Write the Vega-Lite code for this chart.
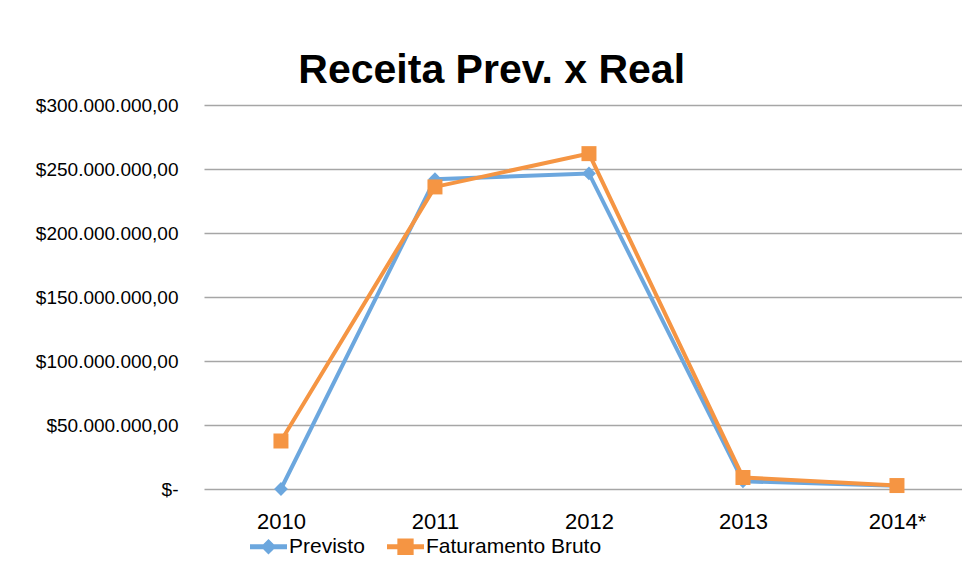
{
  "$schema": "https://vega.github.io/schema/vega-lite/v6.json",
  "width": 758,
  "height": 384,
  "autosize": {"type": "none"},
  "padding": {"left": 204, "top": 105, "right": 0, "bottom": 92},
  "background": "white",
  "config": {"view": {"stroke": null}},
  "title": {
    "text": "Receita Prev. x Real",
    "font": "Liberation Sans",
    "fontSize": 41,
    "fontWeight": "bold",
    "color": "black",
    "anchor": "middle",
    "frame": "bounds",
    "baseline": "alphabetic",
    "offset": -28,
    "dx": -7
  },
  "data": {
    "values": [
      {"year": "2010", "series": "Previsto", "value": 0},
      {"year": "2011", "series": "Previsto", "value": 242000000},
      {"year": "2012", "series": "Previsto", "value": 246500000},
      {"year": "2013", "series": "Previsto", "value": 6000000},
      {"year": "2014*", "series": "Previsto", "value": 2500000},
      {"year": "2010", "series": "Faturamento Bruto", "value": 37500000},
      {"year": "2011", "series": "Faturamento Bruto", "value": 236000000},
      {"year": "2012", "series": "Faturamento Bruto", "value": 262000000},
      {"year": "2013", "series": "Faturamento Bruto", "value": 9000000},
      {"year": "2014*", "series": "Faturamento Bruto", "value": 2700000}
    ]
  },
  "encoding": {
    "x": {
      "field": "year",
      "type": "ordinal",
      "sort": null,
      "scale": {"type": "point", "padding": 0.461, "align": 0.542},
      "axis": {
        "title": null,
        "labelAngle": 0,
        "domain": false,
        "ticks": false,
        "grid": false,
        "labelFont": "Liberation Sans",
        "labelFontSize": 22,
        "labelColor": "black",
        "labelPadding": 22,
        "labelBaseline": "top"
      }
    },
    "y": {
      "field": "value",
      "type": "quantitative",
      "scale": {"domain": [0, 300000000], "nice": false},
      "axis": {
        "title": null,
        "values": [0, 50000000, 100000000, 150000000, 200000000, 250000000, 300000000],
        "labelExpr": "datum.value === 0 ? '$-\u00a0\u00a0\u00a0' : '$' + format(datum.value/1000000, 'd') + '.000.000,00'",
        "domain": false,
        "ticks": false,
        "grid": true,
        "gridColor": "#a6a6a6",
        "gridWidth": 1.5,
        "labelFont": "Liberation Sans",
        "labelFontSize": 19,
        "labelColor": "black",
        "labelPadding": 26
      }
    },
    "color": {
      "field": "series",
      "type": "nominal",
      "scale": {"domain": ["Previsto", "Faturamento Bruto"], "range": ["#6ca7de", "#f59543"]},
      "legend": {
        "title": null,
        "orient": "none",
        "direction": "horizontal",
        "legendX": 46,
        "legendY": 423,
        "labelFont": "Liberation Sans",
        "labelFontSize": 21,
        "labelColor": "black",
        "labelLimit": 400,
        "labelOffset": 2,
        "columnPadding": 22,
        "symbolSize": 1369,
        "encode": {
          "symbols": {
            "update": {
              "shape": {"signal": "datum.value === 'Previsto' ? 'M-1,-0.13H1V0.13H-1Z M0,-0.42L0.42,0L0,0.42L-0.42,0Z' : 'M-1,-0.13H1V0.13H-1Z M-0.44,-0.44H0.44V0.44H-0.44Z'"},
              "fill": {"signal": "datum.value === 'Previsto' ? '#6ca7de' : '#f59543'"},
              "stroke": {"value": "transparent"},
              "strokeWidth": {"value": 0},
              "opacity": {"value": 1},
              "fillOpacity": {"value": 1},
              "size": {"value": 1369}
            }
          }
        }
      }
    }
  },
  "layer": [
    {"mark": {"type": "line", "strokeWidth": 4}},
    {
      "transform": [{"filter": "datum.series === 'Previsto'"}],
      "mark": {"type": "point", "filled": true, "opacity": 1, "shape": "diamond", "size": 190}
    },
    {
      "transform": [{"filter": "datum.series === 'Faturamento Bruto'"}],
      "mark": {"type": "point", "filled": true, "opacity": 1, "shape": "square", "size": 225}
    }
  ]
}
